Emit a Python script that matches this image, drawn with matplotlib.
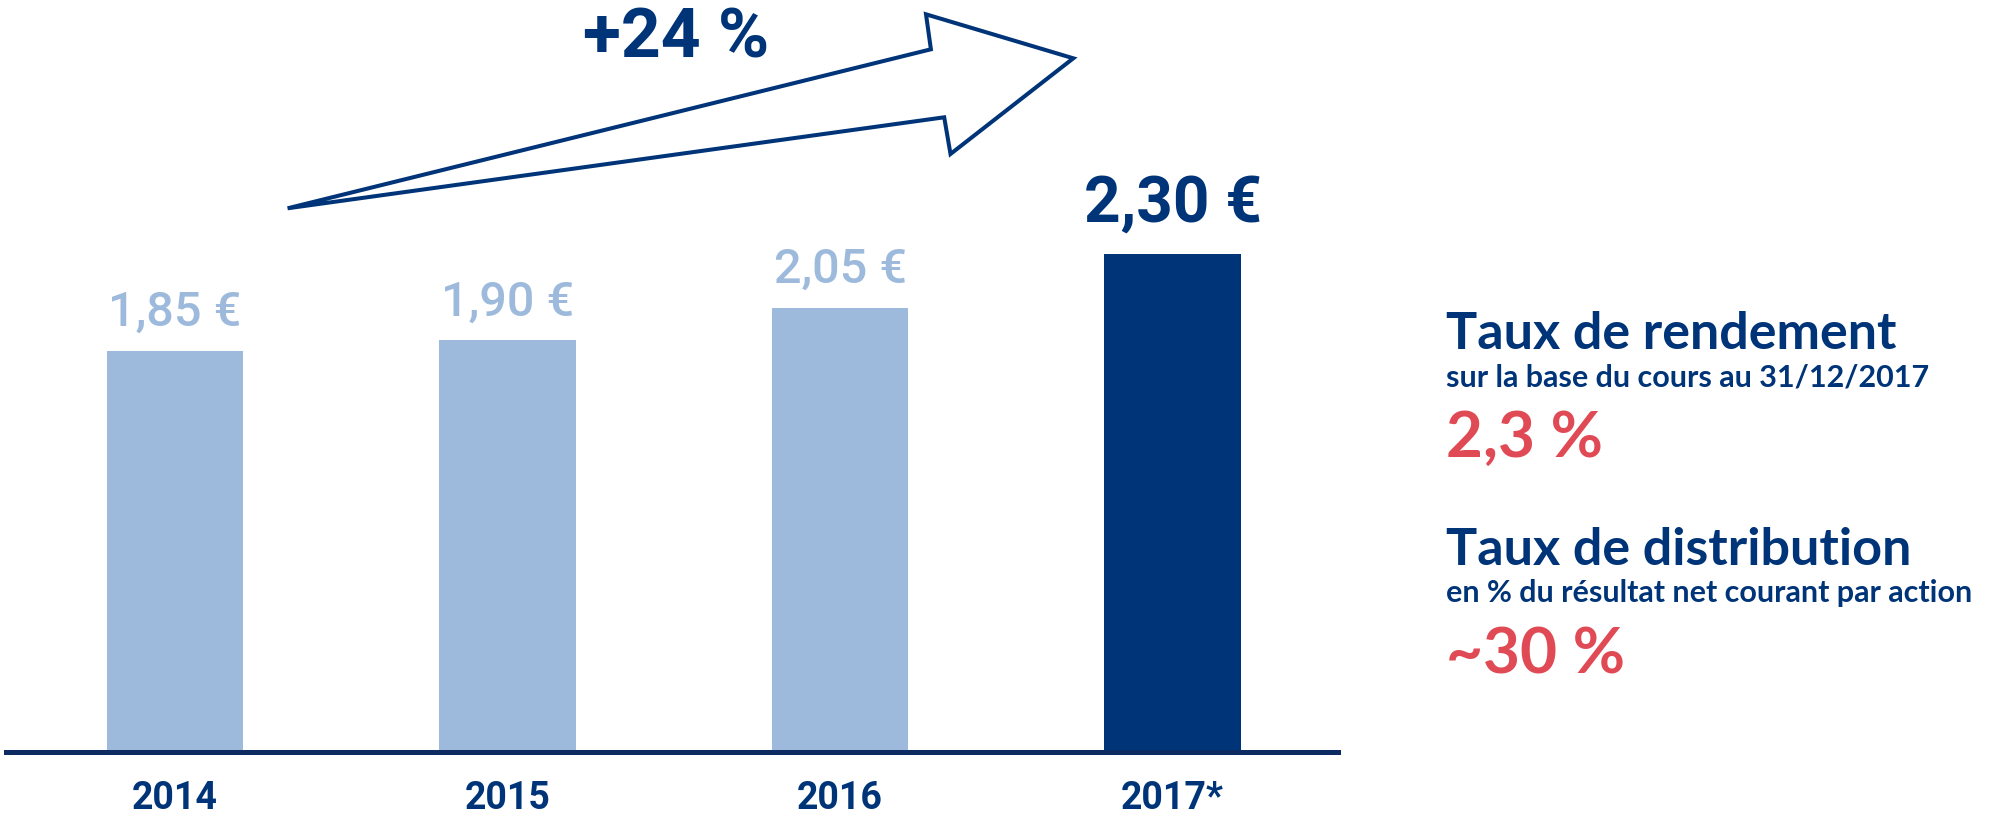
import matplotlib
matplotlib.use('Agg')
import matplotlib.pyplot as plt
from matplotlib.patches import Polygon

# data
years = ['2014', '2015', '2016', '2017*']
dividends = [1.85, 1.90, 2.05, 2.30]
value_labels = ['1,85 €', '1,90 €', '2,05 €', '2,30 €']
growth_label = '+24 %'

light = '#9dbadc'
navy = '#003478'
red = '#e04a55'

W, H = 2008, 818
fig = plt.figure(figsize=(W / 100, H / 100), dpi=100)

def fx(px):
    return px / W

def fy(py):
    return 1 - py / H

# bar area: baseline at y=752 px, from x=6 to x=1338 px
ax = fig.add_axes([fx(6), fy(752), fx(1338) - fx(6), fy(0) - fy(752)])
bar_colors = [light, light, light, navy]
ax.bar(range(len(years)), dividends, width=0.41, color=bar_colors)
ax.set_xlim(-0.5075, 3.497)
ax.set_ylim(0, 752 / 216.6)

for s in ['top', 'left', 'right']:
    ax.spines[s].set_visible(False)
ax.spines['bottom'].set_color('#0d2b63')
ax.spines['bottom'].set_linewidth(3.6)
ax.set_yticks([])
ax.set_xticks(range(len(years)))
ax.set_xticklabels(years, fontsize=27, fontweight='bold', color=navy,
                   family=['Roboto', 'DejaVu Sans'])
ax.tick_params(axis='x', length=0, pad=20)

# value labels above bars
for i, (v, lab) in enumerate(zip(dividends, value_labels)):
    if i == len(dividends) - 1:
        ax.text(i, v + 0.09, lab, ha='center', va='bottom', fontsize=46,
                fontweight='bold', color=navy, family=['Roboto', 'DejaVu Sans'])
    else:
        ax.text(i, v + 0.07, lab, ha='center', va='bottom', fontsize=35,
                fontweight='medium', color=light, family=['Roboto', 'DejaVu Sans'])

# growth arrow (outline)
arrow_px = [(287.6, 208.3), (930.9, 49.3), (926, 14.3), (1073.3, 58.3),
            (950.5, 154), (944.2, 117.3)]
arrow = Polygon([(fx(x), fy(y)) for x, y in arrow_px], closed=True,
                transform=fig.transFigure, facecolor='none', edgecolor=navy,
                linewidth=2.9, joinstyle='miter')
fig.add_artist(arrow)
fig.text(fx(676), fy(57), growth_label, ha='center', va='baseline',
         fontsize=50, fontweight='bold', color=navy,
         family=['Roboto', 'DejaVu Sans'])

# side text
lx = fx(1446)
side = ['Lato', 'DejaVu Sans']
fig.text(lx, fy(349), 'Taux de rendement', fontsize=37.5, fontweight='bold',
         color=navy, va='baseline', family=side)
fig.text(lx, fy(386), 'sur la base du cours au 31/12/2017', fontsize=22,
         fontweight='bold', color=navy, va='baseline', family=side)
fig.text(lx, fy(457), '2,3 %', fontsize=46, fontweight='bold', color=red,
         va='baseline', family=side)
fig.text(lx, fy(565), 'Taux de distribution', fontsize=37.5, fontweight='bold',
         color=navy, va='baseline', family=side)
fig.text(lx, fy(602), 'en % du résultat net courant par action', fontsize=22,
         fontweight='bold', color=navy, va='baseline', family=side)
fig.text(lx, fy(674), '~30 %', fontsize=46, fontweight='bold', color=red,
         va='baseline', family=side)

fig.savefig('out.png', dpi=100)
